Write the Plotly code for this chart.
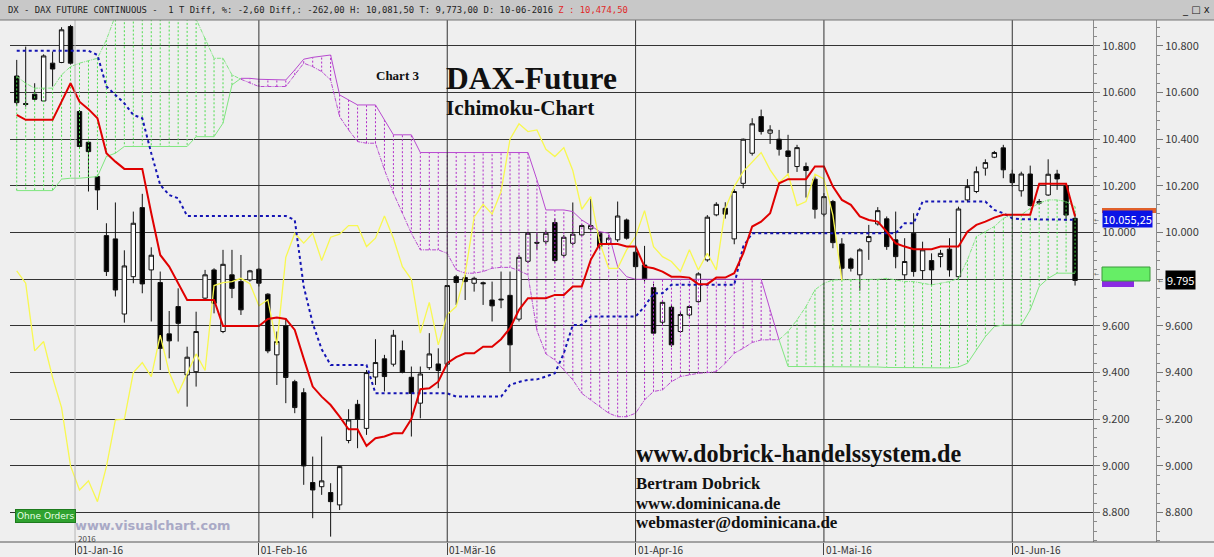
import plotly.graph_objects as go
import pandas as pd

# ---------------- data ----------------
holidays = ['2015-12-24', '2015-12-25', '2015-12-31', '2016-01-01',
            '2016-03-25', '2016-03-28', '2016-05-16']
dates = [d for d in pd.bdate_range('2015-12-18', '2016-06-10')
         if d.strftime('%Y-%m-%d') not in holidays]

open_ = [10671, 10553, 10593, 10564, 10726, 10729, 10883, 10519, 10387, 10240,
         9987, 9973, 9651, 9811, 10107, 9840, 9786, 9566, 9683, 9390,
         9404, 9719, 9840, 9576, 9819, 9790, 9797, 9843, 9736, 9476,
         9600, 9361, 9314, 8929, 8911, 8886, 8833, 9109, 9264, 9161,
         9381, 9459, 9436, 9494, 9380, 9269, 9421, 9437, 9436, 9811,
         9807, 9783, 9785, 9711, 9715, 9731, 9629, 9877, 9958, 9961,
         10043, 9903, 9954, 9990, 10016, 9997, 9954, 9969, 10054, 9916,
         9861, 9764, 9616, 9680, 9576, 9647, 9704, 9883, 10076, 10104,
         9973, 10211, 10340, 10497, 10426, 10400, 10350, 10283, 10283, 10229,
         10079, 10133, 9951, 9887, 9819, 9961, 10037, 10059, 9969, 9819,
         9997, 9837, 9880, 9897, 9929, 9811, 10140, 10176, 10276, 10323,
         10363, 10251, 10179, 10251, 10126, 10161, 10251, 10201, 10061]
high = [10740, 10797, 10640, 10764, 10776, 10880, 10890, 10525, 10392, 10245,
        10040, 10129, 9924, 10090, 10166, 9937, 9833, 9664, 9761, 9511,
        9661, 9840, 9847, 9926, 9926, 9904, 9840, 9847, 9740, 9576,
        9633, 9369, 9333, 9040, 9126, 8926, 9000, 9243, 9283, 9411,
        9543, 9476, 9583, 9537, 9426, 9426, 9569, 9504, 9776, 9819,
        9819, 9811, 9790, 9790, 9833, 9833, 9904, 10004, 9997, 10010,
        10060, 9990, 10129, 10035, 10144, 10005, 9990, 10133, 10060, 9924,
        9943, 9780, 9710, 9690, 9660, 9690, 9830, 10075, 10130, 10130,
        10186, 10403, 10490, 10527, 10460, 10440, 10419, 10376, 10300, 10240,
        10169, 10140, 9976, 9893, 9933, 10033, 10109, 10069, 10090, 9976,
        10083, 9961, 9911, 9926, 9976, 10111, 10229, 10283, 10314, 10350,
        10376, 10269, 10261, 10287, 10144, 10314, 10269, 10211, 10081.5]
low = [10543, 10540, 10566, 10561, 10626, 10726, 10720, 10360, 10176, 10097,
       9814, 9726, 9614, 9783, 9740, 9619, 9411, 9461, 9533, 9254,
       9340, 9711, 9654, 9569, 9719, 9647, 9790, 9769, 9483, 9347,
       9269, 9226, 8919, 8776, 8876, 8697, 8811, 9097, 9076, 9133,
       9347, 9319, 9426, 9397, 9126, 9204, 9411, 9333, 9426, 9690,
       9711, 9747, 9690, 9619, 9676, 9404, 9619, 9869, 9926, 9950,
       9870, 9895, 9945, 9985, 10010, 9930, 9945, 9960, 9970, 9845,
       9790, 9560, 9605, 9510, 9570, 9640, 9700, 9875, 10070, 10060,
       9950, 10190, 10330, 10420, 10380, 10330, 10254, 10260, 10150, 10060,
       10069, 9933, 9797, 9833, 9751, 9883, 10030, 9926, 9847, 9797,
       9811, 9800, 9776, 9851, 9811, 9797, 10130, 10169, 10244, 10319,
       10233, 10197, 10154, 10111, 10119, 10157, 10183, 10050, 9773]
close = [10557, 10549, 10571, 10757, 10701, 10869, 10726, 10369, 10347, 10183,
         9833, 9754, 9857, 10040, 9780, 9903, 9504, 9536, 9611, 9466,
         9576, 9819, 9697, 9864, 9761, 9669, 9836, 9783, 9493, 9533,
         9379, 9250, 9000, 8897, 8936, 8847, 8997, 9197, 9200, 9400,
         9443, 9383, 9560, 9401, 9311, 9394, 9480, 9409, 9773, 9786,
         9790, 9804, 9781, 9686, 9712, 9519, 9894, 9997, 9955, 9997,
         9880, 9980, 9993, 10030, 10030, 9940, 9976, 10071, 9976, 9854,
         9800, 9569, 9701, 9519, 9649, 9683, 9823, 10066, 10121, 10079,
         10176, 10400, 10466, 10433, 10440, 10357, 10326, 10364, 10266, 10100,
         10154, 9957, 9847, 9847, 9926, 9983, 10094, 9940, 9897, 9876,
         9833, 9926, 9840, 9911, 9840, 10101, 10197, 10261, 10300, 10343,
         10269, 10214, 10251, 10116, 10133, 10250, 10230, 10075, 9795]

tenkan = [10504, 10483, 10483, 10483, 10483, 10561, 10640, 10561, 10529, 10490,
          10340, 10304, 10273, 10273, 10273, 10083, 9904, 9854, 9783, 9711,
          9711, 9711, 9711, 9600, 9600, 9600, 9600, 9600, 9630, 9636,
          9630, 9583, 9460, 9340, 9297, 9261, 9211, 9157, 9157, 9086,
          9119, 9126, 9140, 9140, 9201, 9329, 9333, 9361, 9440, 9466,
          9483, 9483, 9511, 9511, 9543, 9590, 9669, 9719, 9719, 9719,
          9733, 9733, 9769, 9769, 9883, 9951, 9951, 9951, 9940, 9940,
          9854, 9847, 9833, 9811, 9811, 9807, 9779, 9779, 9807, 9807,
          9826, 9911, 10026, 10047, 10083, 10211, 10229, 10229, 10229, 10283,
          10283, 10197, 10140, 10119, 10069, 10054, 10047, 10004, 9954, 9940,
          9929, 9929, 9929, 9940, 9940, 9940, 10004, 10033, 10047, 10064,
          10076, 10076, 10076, 10076, 10209, 10209, 10209, 10209, 10069]
kijun = [10779, 10779, 10779, 10779, 10779, 10779, 10779, 10779, 10779, 10761,
         10626, 10590, 10554, 10504, 10490, 10340, 10204, 10161, 10147, 10071,
         10071, 10071, 10071, 10071, 10071, 10071, 10071, 10071, 10071, 10071,
         10071, 10054, 9769, 9611, 9500, 9433, 9433, 9433, 9433, 9433,
         9311, 9311, 9311, 9311, 9311, 9311, 9311, 9311, 9311, 9297,
         9297, 9297, 9297, 9297, 9297, 9347, 9360, 9369, 9371, 9383,
         9397, 9483, 9604, 9604, 9640, 9640, 9640, 9640, 9640, 9640,
         9683, 9740, 9740, 9776, 9776, 9776, 9776, 9776, 9776, 9776,
         9776, 9940, 9997, 9997, 9997, 9997, 9997, 9997, 9997, 9997,
         9997, 9997, 9997, 9997, 9997, 9997, 9997, 9997, 9997, 10040,
         10040, 10133, 10133, 10133, 10133, 10133, 10133, 10133, 10133, 10097,
         10083, 10061, 10057, 10057, 10057, 10057, 10057, 10057, 10055]
span_a = [10669, 10640, 10619, 10619, 10619, 10676, 10711, 10726, 10737, 10747,
          10826, 10930, 10970, 10990, 11000, 11000, 11000, 10990, 10970, 10950,
          10915, 10833, 10747, 10747, 10676, 10657, 10640, 10626, 10626, 10626,
          10626, 10676, 10726, 10711, 10690, 10654, 10497, 10440, 10390, 10383,
          10383, 10269, 10169, 10083, 9997, 9926, 9926, 9926, 9911, 9840,
          9826, 9826, 9833, 9847, 9851, 9851, 9837, 9819, 9580, 9480,
          9454, 9410, 9369, 9311, 9283, 9254, 9226, 9211, 9211, 9226,
          9283, 9319, 9326, 9361, 9383, 9390, 9397, 9400, 9404, 9440,
          9483, 9504, 9529, 9540, 9540, 9541, 9576, 9626, 9683, 9755,
          9783, 9797, 9797, 9797, 9797, 9797, 9800, 9804, 9797, 9790,
          9790, 9783, 9776, 9783, 9790, 9804, 9883, 9983, 10004, 10026,
          10061, 10076, 10076, 10104, 10126, 10140, 10140, 10133, 10111]
span_b = [10180, 10180, 10180, 10180, 10180, 10229, 10233, 10233, 10237, 10240,
          10326, 10340, 10369, 10369, 10369, 10369, 10369, 10369, 10369, 10369,
          10411, 10411, 10411, 10469, 10633, 10661, 10661, 10657, 10657, 10657,
          10654, 10697, 10743, 10751, 10757, 10761, 10590, 10569, 10547, 10547,
          10547, 10483, 10419, 10419, 10419, 10343, 10343, 10343, 10343, 10343,
          10343, 10343, 10343, 10343, 10343, 10343, 10343, 10343, 10226, 10097,
          10097, 10097, 10090, 10054, 10030, 10004, 9997, 9854, 9811, 9800,
          9800, 9800, 9800, 9800, 9800, 9800, 9800, 9800, 9800, 9800,
          9800, 9800, 9800, 9800, 9669, 9540, 9426, 9426, 9426, 9426,
          9426, 9426, 9426, 9426, 9426, 9424, 9424, 9422, 9422, 9420,
          9420, 9420, 9420, 9420, 9420, 9424, 9440, 9497, 9554, 9597,
          9604, 9604, 9604, 9669, 9769, 9804, 9826, 9826, 9826]
chikou = [9836, 9783, 9493, 9533, 9379, 9250, 9000, 8897, 8936, 8847,
          8997, 9197, 9200, 9400, 9443, 9383, 9560, 9401, 9311, 9394,
          9480, 9409, 9773, 9786, 9790, 9804, 9781, 9686, 9712, 9519,
          9894, 9997, 9955, 9997, 9880, 9980, 9993, 10030, 10030, 9940,
          9976, 10071, 9976, 9854, 9800, 9569, 9701, 9519, 9649, 9683,
          9823, 10066, 10121, 10079, 10176, 10400, 10466, 10433, 10440, 10357,
          10326, 10364, 10266, 10100, 10154, 9957, 9847, 9847, 9926, 9983,
          10094, 9940, 9897, 9876, 9833, 9926, 9840, 9911, 9840, 10101,
          10197, 10261, 10300, 10343, 10269, 10214, 10251, 10116, 10133, 10250,
          10230, 10075, 9795]

month_names = {1: 'Jan', 2: 'Feb', 3: 'Mär', 4: 'Apr', 5: 'Mai', 6: 'Jun'}
kijun_label = '10.055,25'
close_label = '9.795'

# ---------------- geometry helpers (layout only) ----------------
W, H = 1214, 557
ML, MR, MT, MB = 10, 58, 20, 15
PW, PH = W - ML - MR, H - MT - MB
def px(x):
    return (x - ML) / PW
def py(y):
    return (H - MB - y) / PH

idx = list(range(len(dates)))

# month boundaries from the trading calendar
month_pos, month_txt = [], []
for k in range(1, len(dates)):
    if dates[k].month != dates[k - 1].month:
        pos = k - 0.5 if dates[k].year != dates[k - 1].year else k
        month_pos.append(pos)
        month_txt.append('01-%s-%s' % (month_names[dates[k].month], dates[k].strftime('%y')))

fig = go.Figure()

# candles
fig.add_trace(go.Candlestick(
    x=idx, open=open_, high=high, low=low, close=close,
    increasing=dict(line=dict(color='#111111', width=1), fillcolor='#ffffff'),
    decreasing=dict(line=dict(color='#111111', width=1), fillcolor='#000000'),
    whiskerwidth=0, showlegend=False, hoverinfo='skip'))

# cloud hatching
GREEN_H, PURP_H = '#4fdc4f', '#b02cc8'
GREEN_L, PURP_L = '#80e680', '#b84ad0'
hx = {True: [], False: []}
hy = {True: [], False: []}
for i in idx:
    g = span_a[i] >= span_b[i]
    hx[g] += [i, i, None]
    hy[g] += [span_a[i], span_b[i], None]
for g, col in ((True, GREEN_H), (False, PURP_H)):
    fig.add_trace(go.Scatter(x=hx[g], y=hy[g], mode='lines',
                             line=dict(color=col, width=1, dash='2px,2px'),
                             showlegend=False, hoverinfo='skip'))

# cloud borders, coloured by phase
runs = []
start = 0
for i in range(1, len(idx) + 1):
    if i == len(idx) or (span_a[i] >= span_b[i]) != (span_a[start] >= span_b[start]):
        runs.append((start, i))
        start = i
for s, e in runs:
    g = span_a[s] >= span_b[s]
    col = GREEN_L if g else PURP_L
    e2 = min(e + 1, len(idx))
    xs = idx[s:e2]
    fig.add_trace(go.Scatter(x=xs, y=span_a[s:e2], mode='lines',
                             line=dict(color=col, width=1, dash='4px,1px,1px,1px'),
                             showlegend=False, hoverinfo='skip'))
    fig.add_trace(go.Scatter(x=xs, y=span_b[s:e2], mode='lines',
                             line=dict(color=col, width=1),
                             showlegend=False, hoverinfo='skip'))

# chikou span
fig.add_trace(go.Scatter(x=idx[:len(chikou)], y=chikou, mode='lines',
                         line=dict(color='#f8f850', width=1.3),
                         showlegend=False, hoverinfo='skip'))
# kijun
fig.add_trace(go.Scatter(x=idx, y=kijun, mode='lines',
                         line=dict(color='#1414b4', width=2, dash='dot'),
                         showlegend=False, hoverinfo='skip'))
# tenkan
fig.add_trace(go.Scatter(x=idx, y=tenkan, mode='lines',
                         line=dict(color='#e00000', width=2),
                         showlegend=False, hoverinfo='skip'))
# second price scale carrier
fig.add_trace(go.Scatter(x=[idx[-1]], y=[close[-1]], yaxis='y2', mode='markers',
                         marker=dict(opacity=0), showlegend=False, hoverinfo='skip'))

YR = [8674, 10911]
AX_FONT = dict(family='Noto Sans CJK KR, DejaVu Sans', size=11, color='#3a3a3a')
yax = dict(range=YR, tickmode='linear', tick0=8800, dtick=200, tickformat=',d',
           ticks='outside', ticklen=6, tickcolor='#777', showline=True,
           linecolor='#8a8a8a', linewidth=1, zeroline=False, tickfont=AX_FONT,
           automargin=False,
           minor=dict(dtick=40, tick0=8800, ticks='outside', ticklen=3,
                      tickcolor='#8a8a8a', showgrid=False))

fig.update_layout(
    width=W, height=H, margin=dict(l=ML, r=MR, t=MT, b=MB, pad=0, autoexpand=False),
    paper_bgcolor='#efefef', plot_bgcolor='#efefef',
    separators=',.', showlegend=False, hovermode=False,
    xaxis=dict(domain=[0, px(1093)], range=[-0.75, 120], rangeslider=dict(visible=False),
               tickmode='array', tickvals=month_pos, ticktext=month_txt,
               ticks='outside', ticklen=12, tickcolor='#444', showgrid=False,
               zeroline=False, showline=False, automargin=False,
               tickfont=dict(family='Noto Sans CJK KR, DejaVu Sans', size=10, color='#333'),
               ticklabelshift=25, ticklabelstandoff=-13),
    yaxis=dict(side='right', anchor='x', showgrid=True, gridcolor='#333333',
               gridwidth=1, **yax),
    yaxis2=dict(side='right', overlaying='y', anchor='free', position=1.0,
                showgrid=False, **yax),
)

shapes = []
# month separators
for k, p in enumerate(month_pos):
    shapes.append(dict(type='line', xref='x', yref='paper', x0=p, x1=p, y0=0, y1=1,
                       line=dict(color='#b4b4b4' if k == 0 else '#333333', width=1)))
# title bar
shapes.append(dict(type='rect', xref='paper', yref='paper', x0=px(0), x1=px(W),
                   y0=py(20), y1=py(0), fillcolor='#c8c8c8', line=dict(width=0), layer='above'))
shapes.append(dict(type='line', xref='paper', yref='paper', x0=px(0), x1=px(W),
                   y0=py(20), y1=py(20), line=dict(color='#777', width=1)))
# bottom axis rule
shapes.append(dict(type='line', xref='paper', yref='paper', x0=px(0), x1=px(W),
                   y0=py(542), y1=py(542), line=dict(color='#555', width=1)))
# small price tags at the right scale
shapes.append(dict(type='rect', xref='paper', yref='paper', x0=px(1102), x1=px(1156),
                   y0=py(213), y1=py(208), fillcolor='#e0602a', line=dict(width=0)))
shapes.append(dict(type='rect', xref='paper', yref='paper', x0=px(1102), x1=px(1134),
                   y0=py(287), y1=py(280), fillcolor='#8a2be2', line=dict(width=0)))
shapes.append(dict(type='rect', xref='paper', yref='paper', x0=px(1102), x1=px(1150),
                   y0=py(281), y1=py(267), fillcolor='#66ee66',
                   line=dict(color='#3a9a3a', width=1)))
fig.update_layout(shapes=shapes)

SERIF = 'Liberation Serif, Times New Roman, serif'
ann = []
def A(text, x, y, size, family=SERIF, color='#111', **kw):
    d = dict(text=text, xref='paper', yref='paper', x=px(x), y=py(y),
             xanchor='left', yanchor='middle', showarrow=False,
             font=dict(family=family, size=size, color=color))
    d.update(kw)
    ann.append(d)

A('DX - DAX FUTURE CONTINUOUS -  1 T Diff, %: -2,60 Diff,: -262,00 H: 10,081,50 '
  'T: 9,773,00 D: 10-06-2016 <span style="color:#e02828">Z : 10,474,50</span>',
  6, 10, 8.9, family='DejaVu Sans Mono, monospace', color='#222')
A('_ □ x', 1212, 10, 10, family='DejaVu Sans', color='#222', xanchor='right')
A('<b>Chart 3</b>', 374, 75, 13)
A('<b>DAX-Future</b>', 444, 78, 31.5)
A('<b>Ichimoku-Chart</b>', 444, 108, 21.2)
A('<b>www.dobrick-handelssystem.de</b>', 634, 453, 24.2)
A('<b>Bertram Dobrick</b>', 634, 483, 16.8)
A('<b>www.dominicana.de</b>', 634, 503, 16.8)
A('<b>webmaster@dominicana.de</b>', 634, 522, 17)
A('<b>www.visualchart.com</b>', 73, 525, 12.9, family='DejaVu Sans, Verdana',
  color='#a9a9c6')
A('Ohne Orders', 15, 516, 9, family='DejaVu Sans', color='#e6ffe6',
  bgcolor='#2fa22f', bordercolor='#1d7a1d', borderpad=1)
ann.append(dict(text='2016', xref='x', yref='paper', x=month_pos[0], y=py(538),
                xanchor='left', yanchor='middle', xshift=1, showarrow=False,
                font=dict(family='Noto Sans CJK KR, DejaVu Sans', size=8, color='#444')))
A(kijun_label, 1102, 219, 11, family='Noto Sans CJK KR, DejaVu Sans',
  color='#ffffff', bgcolor='#0a14e6', borderpad=0)
A(close_label, 1165, 280, 11, family='Noto Sans CJK KR, DejaVu Sans',
  color='#ffffff', bgcolor='#000000', borderpad=1)
A('←', 1092, 219, 6, family='DejaVu Sans', color='#666')
A('←', 1092, 273, 6, family='DejaVu Sans', color='#666')
A('←', 1156, 280, 6, family='DejaVu Sans', color='#666')
fig.update_layout(annotations=ann)

fig.write_html('out.html', config={'displayModeBar': False},
               post_script="document.body.style.margin='0px';document.body.style.padding='0px';"
                           "document.body.style.background='#efefef';")
